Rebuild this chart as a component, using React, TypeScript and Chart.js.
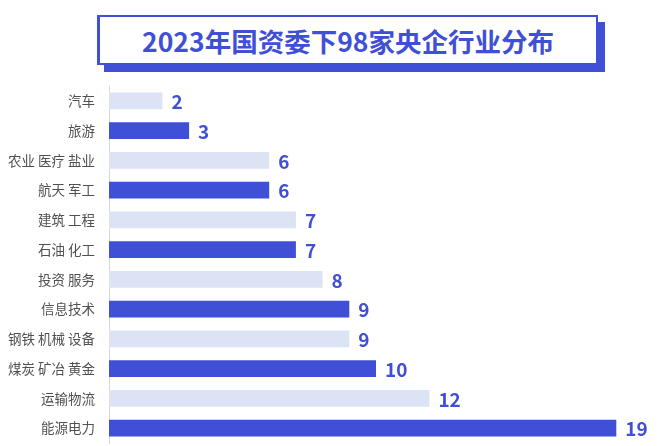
import React, { useEffect, useRef } from "react";
import { Chart, registerables } from "chart.js";

Chart.register(...registerables);

const TITLE = "2023年国资委下98家央企行业分布";
const categories = [
  "汽车",
  "旅游",
  "农业 医疗 盐业",
  "航天 军工",
  "建筑 工程",
  "石油 化工",
  "投资 服务",
  "信息技术",
  "钢铁 机械 设备",
  "煤炭 矿冶 黄金",
  "运输物流",
  "能源电力",
];
const values = [2, 3, 6, 6, 7, 7, 8, 9, 9, 10, 12, 19];

const DARK = "#3f4fd6";
const LIGHT = "#dbe3f4";
const FONT = "'Noto Sans CJK SC', 'Noto Sans', sans-serif";

const valueLabels = {
  id: "valueLabels",
  afterDatasetsDraw(chart: any) {
    const ctx = chart.ctx;
    const meta = chart.getDatasetMeta(0);
    ctx.save();
    ctx.font = `bold 19px ${FONT}`;
    ctx.fillStyle = DARK;
    ctx.textAlign = "left";
    ctx.textBaseline = "middle";
    meta.data.forEach((bar: any, i: number) => {
      ctx.fillText(String(values[i]), bar.x + 9, bar.y + 1);
    });
    ctx.restore();
  },
};

export default function App() {
  const ref = useRef<HTMLCanvasElement | null>(null);
  useEffect(() => {
    if (!ref.current) return;
    const chart = new Chart(ref.current, {
      type: "bar",
      data: {
        labels: categories,
        datasets: [
          {
            data: values,
            backgroundColor: values.map((_, i) => (i % 2 === 0 ? LIGHT : DARK)),
            borderWidth: 0,
            barPercentage: 0.57,
            categoryPercentage: 1,
          },
        ],
      },
      options: {
        indexAxis: "y",
        animation: false,
        responsive: false,
        maintainAspectRatio: false,
        layout: { padding: { top: 6, bottom: 3, right: 20, left: 0 } },
        plugins: {
          legend: { display: false },
          tooltip: { enabled: false },
          title: { display: false },
        },
        scales: {
          x: { display: false, min: 0, max: 20 },
          y: {
            afterFit: (scale: any) => {
              scale.width = 109;
              scale.paddingTop = 0;
              scale.paddingBottom = 0;
            },
            grid: { display: false, drawTicks: false },
            border: { display: true, color: "#d6d6d6", width: 1 },
            ticks: {
              padding: 14,
              color: "#505050",
              font: { size: 13.5, family: FONT },
            },
          },
        },
      },
      plugins: [valueLabels],
    });
    return () => chart.destroy();
  }, []);

  return (
    <div
      style={{
        position: "fixed",
        left: 0,
        top: 0,
        width: 663,
        height: 446,
        background: "#ffffff",
        overflow: "hidden",
      }}
    >
      <div
        style={{
          position: "absolute",
          left: 97,
          top: 15,
          width: 496,
          height: 46,
          border: `2px solid ${DARK}`,
          borderLeftWidth: 3,
          boxShadow: `7px 7px 0 ${DARK}`,
          background: "#fff",
          display: "flex",
          alignItems: "center",
          justifyContent: "center",
          fontFamily: FONT,
          fontWeight: 700,
          fontSize: 26.5,
          color: DARK,
          whiteSpace: "nowrap",
        }}
      >
        {TITLE}
      </div>
      <canvas
        ref={ref}
        width={663}
        height={366}
        style={{ position: "absolute", left: 0, top: 80, width: 663, height: 366 }}
      />
    </div>
  );
}
